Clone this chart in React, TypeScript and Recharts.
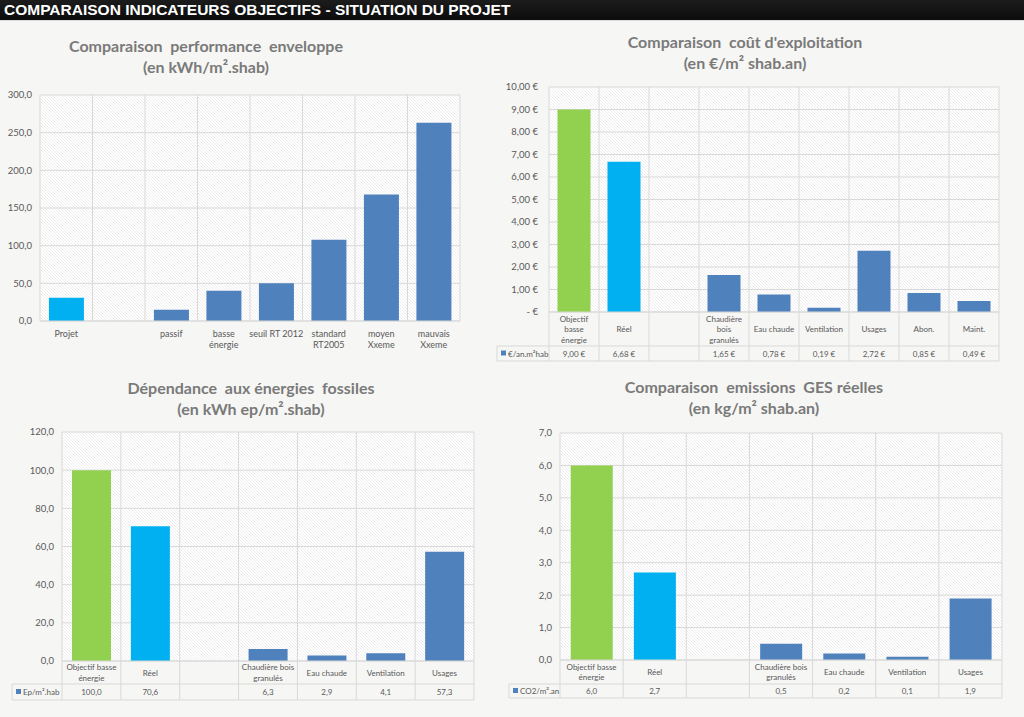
import React from "react"
import { BarChart, Bar, XAxis, YAxis, CartesianGrid, Cell } from "recharts"

// --- data ---
const perfCategories = ["Projet", "", "passif", "basse\nénergie", "seuil RT 2012", "standard\nRT2005", "moyen\nXxeme", "mauvais\nXxeme"]
const perfValues = [31, null, 15, 40, 50, 108, 168, 263]
const perfTicks = [0, 50, 100, 150, 200, 250, 300]

const costCategories = ["Objectif\nbasse\nénergie", "Réel", "", "Chaudière\nbois\ngranulés", "Eau chaude", "Ventilation", "Usages", "Abon.", "Maint."]
const costValues = [9.0, 6.68, null, 1.65, 0.78, 0.19, 2.72, 0.85, 0.49]
const costTicks = [0, 1, 2, 3, 4, 5, 6, 7, 8, 9, 10]

const usageCategories = ["Objectif basse\nénergie", "Réel", "", "Chaudière bois\ngranulés", "Eau chaude", "Ventilation", "Usages"]
const fossilValues = [100.0, 70.6, null, 6.3, 2.9, 4.1, 57.3]
const fossilTicks = [0, 20, 40, 60, 80, 100, 120]
const gesValues = [6.0, 2.7, null, 0.5, 0.2, 0.1, 1.9]
const gesTicks = [0, 1, 2, 3, 4, 5, 6, 7]

const GREEN = "#92d050"
const CYAN = "#00b0f0"
const BLUE = "#4f81bd"
const GRID = "#d9d9d9"
const TXT = "#595959"
const FONT = "Lato, 'Open Sans', sans-serif"

const comma = (v: number, d: number) => v.toFixed(d).replace(".", ",")

type TableCfg = { legend: string; labelRow: number; dataRow: number; legendW: number }

type ChartCfg = {
  id: string
  title: [string, string]
  titleX: number
  titleY: number
  left: number
  top: number
  width: number
  height: number
  margin: { top: number; right: number; bottom: number; left: number }
  yWidth: number
  yMargin: number
  xHeight: number
  categories: string[]
  values: (number | null)[]
  colors: string[]
  ticks: number[]
  yFmt: (v: number) => string
  vFmt: (v: number) => string
  table?: TableCfg
}

const charts: ChartCfg[] = [
  {
    id: "perf",
    title: ["Comparaison  performance  enveloppe", "(en kWh/m².shab)"],
    titleX: 206, titleY: 35,
    left: 0, top: 85, width: 500, height: 275,
    margin: { top: 10, right: 40, bottom: 4, left: 0 },
    yWidth: 40, yMargin: 8, xHeight: 35,
    categories: perfCategories, values: perfValues,
    colors: [CYAN, BLUE, BLUE, BLUE, BLUE, BLUE, BLUE, BLUE],
    ticks: perfTicks,
    yFmt: (v) => comma(v, 1),
    vFmt: (v) => comma(v, 1),
  },
  {
    id: "cost",
    title: ["Comparaison  coût d'exploitation", "(en €/m² shab.an)"],
    titleX: 745, titleY: 31,
    left: 490, top: 80, width: 534, height: 290,
    margin: { top: 7, right: 25, bottom: 6, left: 0 },
    yWidth: 59, yMargin: 11, xHeight: 52,
    categories: costCategories, values: costValues,
    colors: [GREEN, CYAN, BLUE, BLUE, BLUE, BLUE, BLUE, BLUE, BLUE],
    ticks: costTicks,
    yFmt: (v) => (v === 0 ? "-   €" : comma(v, 2) + " €"),
    vFmt: (v) => comma(v, 2) + " €",
    table: { legend: "€/an.m²hab", labelRow: 34, dataRow: 15, legendW: 52 },
  },
  {
    id: "fossil",
    title: ["Dépendance  aux énergies  fossiles", "(en kWh ep/m².shab)"],
    titleX: 251, titleY: 377,
    left: 0, top: 420, width: 500, height: 297,
    margin: { top: 12, right: 26, bottom: 4, left: 0 },
    yWidth: 62, yMargin: 8, xHeight: 52,
    categories: usageCategories, values: fossilValues,
    colors: [GREEN, CYAN, BLUE, BLUE, BLUE, BLUE, BLUE],
    ticks: fossilTicks,
    yFmt: (v) => comma(v, 1),
    vFmt: (v) => comma(v, 1),
    table: { legend: "Ep/m².hab", labelRow: 23, dataRow: 16, legendW: 50 },
  },
  {
    id: "ges",
    title: ["Comparaison  emissions  GES réelles", "(en kg/m² shab.an)"],
    titleX: 754, titleY: 376,
    left: 500, top: 420, width: 524, height: 297,
    margin: { top: 13, right: 22, bottom: 5, left: 0 },
    yWidth: 60, yMargin: 8, xHeight: 52,
    categories: usageCategories, values: gesValues,
    colors: [GREEN, CYAN, BLUE, BLUE, BLUE, BLUE, BLUE],
    ticks: gesTicks,
    yFmt: (v) => comma(v, 1),
    vFmt: (v) => comma(v, 1),
    table: { legend: "CO2/m².an", labelRow: 24, dataRow: 14, legendW: 51 },
  },
]

function makeTick(cfg: ChartCfg, band: number) {
  const n = cfg.categories.length
  return (props: any) => {
    const { x, y, payload } = props
    const index = props.index ?? payload.index
    const lines = String(payload.value).split("\n")
    const t = cfg.table
    if (!t) {
      return (
        <g>
          {lines.map((l, i) => (
            <text key={i} x={x} y={y + 12 + i * 11.4} textAnchor="middle" dominantBaseline="central"
              fill={TXT} fontSize={9} fontFamily={FONT}>{l}</text>
          ))}
        </g>
      )
    }
    const lh = 10.5
    const y0 = y + t.labelRow / 2 - ((lines.length - 1) * lh) / 2
    const x0 = x - band / 2
    const x1 = x + band / 2
    const yb = y + t.labelRow
    const ye = yb + t.dataRow
    const v = cfg.values[index]
    return (
      <g>
        {lines.map((l, i) => (
          <text key={i} x={x} y={y0 + i * lh} textAnchor="middle" dominantBaseline="central"
            fill={TXT} fontSize={8} fontFamily={FONT}>{l}</text>
        ))}
        <line x1={x0} x2={x0} y1={y} y2={ye} stroke={GRID} />
        {index === n - 1 && <line x1={x1} x2={x1} y1={y} y2={ye} stroke={GRID} />}
        <line x1={x0} x2={x1} y1={yb} y2={yb} stroke={GRID} />
        <line x1={x0} x2={x1} y1={ye} y2={ye} stroke={GRID} />
        {v != null && (
          <text x={x} y={(yb + ye) / 2} textAnchor="middle" dominantBaseline="central"
            fill={TXT} fontSize={8} fontFamily={FONT}>{cfg.vFmt(v)}</text>
        )}
        {index === 0 && (
          <g>
            <line x1={x0 - t.legendW} x2={x0} y1={yb} y2={yb} stroke={GRID} />
            <line x1={x0 - t.legendW} x2={x0} y1={ye} y2={ye} stroke={GRID} />
            <line x1={x0 - t.legendW} x2={x0 - t.legendW} y1={yb} y2={ye} stroke={GRID} />
            <rect x={x0 - t.legendW + 4} y={(yb + ye) / 2 - 3} width={5} height={5} fill={BLUE} />
            <text x={x0 - t.legendW + 11} y={(yb + ye) / 2} dominantBaseline="central"
              fill={TXT} fontSize={8} fontFamily={FONT}>{t.legend}</text>
          </g>
        )}
      </g>
    )
  }
}

function Chart({ cfg }: { cfg: ChartCfg }) {
  const n = cfg.categories.length
  const plotLeft = cfg.margin.left + cfg.yWidth
  const plotW = cfg.width - plotLeft - cfg.margin.right
  const band = plotW / n
  const data = cfg.categories.map((name, i) => ({ name, value: cfg.values[i] }))
  const hatch = "hatch-" + cfg.id
  return (
    <>
      <div
        style={{
          position: "absolute", left: cfg.titleX - 250, top: cfg.titleY, width: 500,
          textAlign: "center", whiteSpace: "pre", fontFamily: FONT, fontWeight: 700,
          fontSize: 16, lineHeight: "21px", color: "#7a7a7a",
        }}
      >
        {cfg.title[0]}
        {"\n"}
        {cfg.title[1]}
      </div>
      <div style={{ position: "absolute", left: cfg.left, top: cfg.top }}>
        <BarChart width={cfg.width} height={cfg.height} data={data} margin={cfg.margin} barCategoryGap="17%">
          <defs>
            <pattern id={hatch} patternUnits="userSpaceOnUse" width={3} height={3}>
              <rect width={3} height={3} fill="#ffffff" />
              <path d="M0,0 L3,3 M-1,2 L1,4 M2,-1 L4,1" stroke="#e0e0e0" strokeWidth={0.6} />
            </pattern>
          </defs>
          <CartesianGrid
            stroke={GRID}
            fill={`url(#${hatch})`}
            fillOpacity={1}
            verticalCoordinatesGenerator={(p: any) => {
              const l = p?.offset?.left ?? plotLeft
              const w = p?.offset?.width ?? plotW
              return Array.from({ length: n + 1 }, (_, i) => l + (i * w) / n)
            }}
          />
          <XAxis
            dataKey="name"
            interval={0}
            height={cfg.xHeight}
            tickLine={false}
            tickSize={0}
            tickMargin={0}
            axisLine={{ stroke: GRID }}
            tick={makeTick(cfg, band)}
          />
          <YAxis
            width={cfg.yWidth}
            domain={[0, cfg.ticks[cfg.ticks.length - 1]]}
            ticks={cfg.ticks}
            interval={0}
            axisLine={false}
            tickLine={false}
            tickSize={0}
            tickMargin={cfg.yMargin}
            tickFormatter={cfg.yFmt}
            tick={{ fill: TXT, fontSize: 9.5, fontFamily: FONT }}
          />
          <Bar dataKey="value" isAnimationActive={false}>
            {data.map((_, i) => (
              <Cell key={i} fill={cfg.colors[i]} />
            ))}
          </Bar>
        </BarChart>
      </div>
    </>
  )
}

export default function App() {
  return (
    <div
      style={{
        position: "absolute", left: 0, top: 0, width: 1024, height: 717,
        background: "#f6f6f4", overflow: "hidden",
      }}
    >
      <div
        style={{
          position: "absolute", left: 0, top: 0, width: 1024, height: 20,
          background: "linear-gradient(#1c1c1c, #0c0c0c)",
          borderBottom: "1px solid #dcdcdc",
        }}
      >
        <span
          style={{
            position: "absolute", left: 4, top: 1, color: "#ffffff",
            fontFamily: "'Liberation Sans', Arial, sans-serif", fontWeight: 700,
            fontSize: 15.5, lineHeight: "18px", whiteSpace: "nowrap",
          }}
        >
          COMPARAISON INDICATEURS OBJECTIFS - SITUATION DU PROJET
        </span>
      </div>
      {charts.map((c) => (
        <Chart key={c.id} cfg={c} />
      ))}
    </div>
  )
}
